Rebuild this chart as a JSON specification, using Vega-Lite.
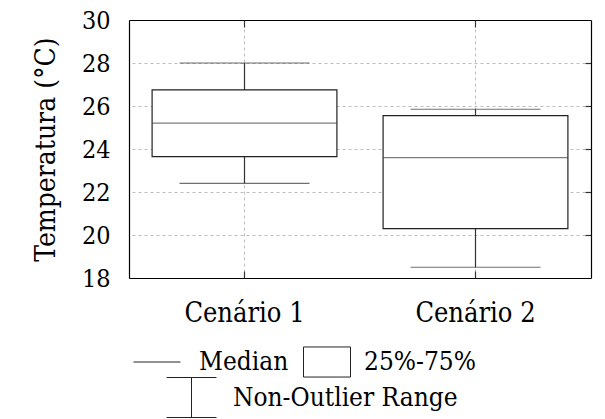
{
  "$schema": "https://vega.github.io/schema/vega-lite/v6.json",
  "width": 462,
  "height": 258,
  "autosize": {"type": "none"},
  "padding": {"left": 129, "top": 20, "right": 14, "bottom": 141},
  "background": "white",
  "config": {
    "font": "DejaVu Serif Condensed, DejaVu Serif, serif",
    "view": {"stroke": null},
    "axis": {
      "labelFont": "DejaVu Serif Condensed, DejaVu Serif, serif",
      "labelColor": "#000",
      "titleFont": "DejaVu Serif Condensed, DejaVu Serif, serif",
      "titleColor": "#000",
      "titleFontWeight": "normal",
      "domain": true,
      "domainColor": "#000",
      "domainWidth": 1.2,
      "gridColor": "#bdbdbd",
      "gridDash": [3, 3],
      "gridWidth": 1,
      "tickColor": "#333",
      "tickWidth": 1.2
    },
    "legend": {
      "labelFont": "DejaVu Serif Condensed, DejaVu Serif, serif",
      "labelColor": "#000",
      "labelFontSize": 26,
      "labelLimit": 400,
      "padding": 0,
      "title": null,
      "orient": "none",
      "direction": "horizontal",
      "symbolStrokeWidth": 1,
      "symbolStrokeColor": "#222"
    }
  },
  "datasets": {
    "boxes": [
      {"cenario": "Cenário 1", "lower": 22.4, "q1": 23.65, "median": 25.2, "q3": 26.75, "upper": 28.0},
      {"cenario": "Cenário 2", "lower": 18.5, "q1": 20.3, "median": 23.6, "q3": 25.55, "upper": 25.85}
    ],
    "keyMedian": [{"item": "Median"}],
    "keyBox": [{"item": "25%-75%"}],
    "keyRange": [{"item": "Non-Outlier Range"}]
  },
  "layer": [
    {
      "data": {"name": "boxes"},
      "mark": {"type": "rule", "color": "#333", "strokeWidth": 1.2},
      "encoding": {
        "x": {
          "field": "cenario",
          "type": "nominal",
          "sort": null,
          "scale": {"paddingInner": 0, "paddingOuter": 0},
          "axis": {
            "orient": "bottom",
            "title": null,
            "labelAngle": 0,
            "labelFontSize": 27,
            "labelPadding": 29,
            "grid": false,
            "bandPosition": 0.5,
            "ticks": true,
            "tickSize": -7
          }
        },
        "y": {
          "field": "lower",
          "type": "quantitative",
          "scale": {"domain": [18, 30], "nice": false, "zero": false},
          "axis": {
            "orient": "left",
            "title": "Temperatura (°C)",
            "titleFontSize": 28,
            "titlePadding": 21,
            "labelFontSize": 25,
            "labelPadding": 19,
            "values": [18, 20, 22, 24, 26, 28, 30],
            "grid": false,
            "ticks": false
          }
        },
        "y2": {"field": "upper"}
      }
    },
    {
      "data": {"name": "boxes"},
      "mark": {"type": "tick", "color": "#333", "size": 130, "thickness": 1.2, "orient": "horizontal"},
      "encoding": {
        "x": {
          "field": "cenario",
          "type": "nominal",
          "sort": null,
          "axis": {
            "orient": "top",
            "title": null,
            "labels": false,
            "grid": true,
            "bandPosition": 0.5,
            "ticks": true,
            "tickSize": -7
          }
        },
        "y": {
          "field": "lower",
          "type": "quantitative",
          "axis": {
            "orient": "right",
            "title": null,
            "labels": false,
            "grid": true,
            "values": [20, 22, 24, 26, 28],
            "ticks": true,
            "tickSize": -6
          }
        }
      }
    },
    {
      "data": {"name": "boxes"},
      "mark": {"type": "tick", "color": "#333", "size": 130, "thickness": 1.2, "orient": "horizontal"},
      "encoding": {
        "x": {"field": "cenario", "type": "nominal", "sort": null, "axis": null},
        "y": {"field": "upper", "type": "quantitative", "axis": null}
      }
    },
    {
      "data": {"name": "boxes"},
      "mark": {"type": "bar", "fill": "white", "stroke": "#222", "strokeWidth": 1.2, "width": {"band": 0.8}},
      "encoding": {
        "x": {"field": "cenario", "type": "nominal", "sort": null, "axis": null},
        "y": {"field": "q1", "type": "quantitative", "axis": null},
        "y2": {"field": "q3"}
      }
    },
    {
      "data": {"name": "boxes"},
      "mark": {"type": "tick", "color": "#444", "size": 185, "thickness": 1.2, "orient": "horizontal"},
      "encoding": {
        "x": {"field": "cenario", "type": "nominal", "sort": null, "axis": null},
        "y": {"field": "median", "type": "quantitative", "axis": null}
      }
    },
    {
      "data": {"name": "keyMedian"},
      "mark": {"type": "point", "filled": false, "color": "#222", "opacity": 0},
      "encoding": {
        "shape": {
          "field": "item",
          "type": "nominal",
          "scale": {"domain": ["Median"], "range": ["stroke"]},
          "legend": {"legendX": 4, "legendY": 318, "symbolSize": 2209, "labelOffset": 18}
        }
      }
    },
    {
      "data": {"name": "keyBox"},
      "mark": {"type": "point", "filled": false, "color": "#222", "opacity": 0},
      "encoding": {
        "shape": {
          "field": "item",
          "type": "nominal",
          "scale": {"domain": ["25%-75%"], "range": ["M-1,-0.64H1V0.64H-1Z"]},
          "legend": {"legendX": 174, "legendY": 318, "symbolSize": 2209, "labelOffset": 13}
        }
      }
    },
    {
      "data": {"name": "keyRange"},
      "mark": {"type": "point", "filled": false, "color": "#222", "opacity": 0},
      "encoding": {
        "shape": {
          "field": "item",
          "type": "nominal",
          "scale": {"domain": ["Non-Outlier Range"], "range": ["M-1,-0.8H1M0,-0.8V0.8M-1,0.8H1"]},
          "legend": {"legendX": 37, "legendY": 352, "symbolSize": 2500, "labelOffset": 16}
        }
      }
    }
  ],
  "resolve": {
    "axis": {"x": "independent", "y": "independent"},
    "scale": {"shape": "independent"},
    "legend": {"shape": "independent"}
  }
}
